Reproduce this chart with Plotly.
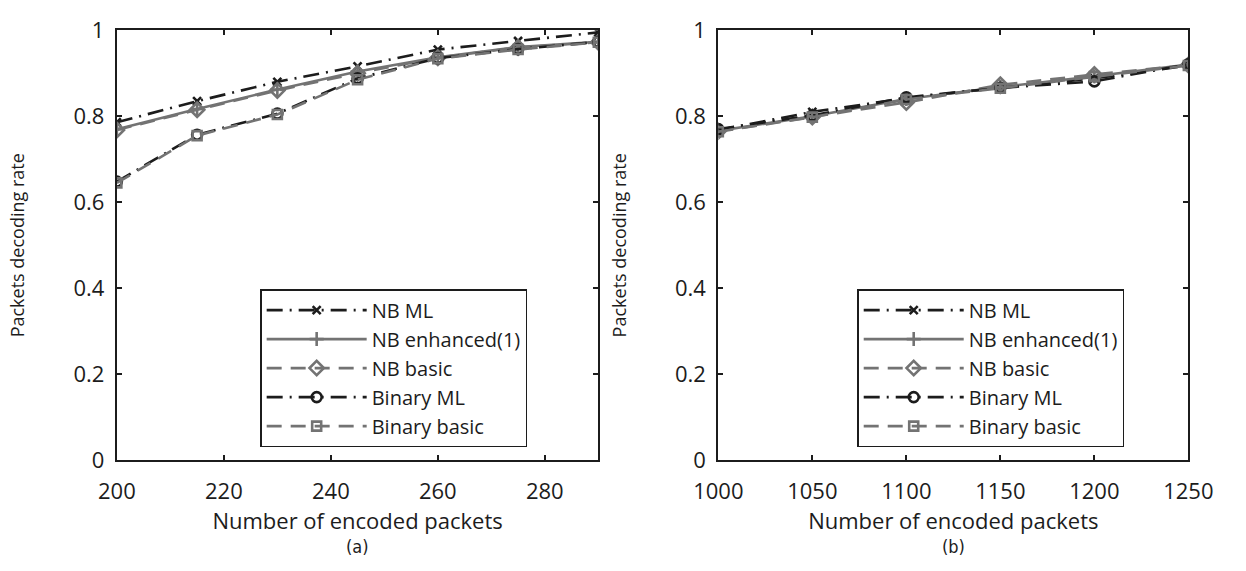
import plotly.graph_objects as go

# ---------------- data ----------------
x_a = [200, 215, 230, 245, 260, 275, 290]
nb_ml_a = [0.786, 0.835, 0.880, 0.916, 0.955, 0.975, 0.995]
nb_enh_a = [0.770, 0.817, 0.862, 0.904, 0.937, 0.961, 0.973]
nb_basic_a = [0.768, 0.815, 0.860, 0.900, 0.936, 0.960, 0.972]
bin_ml_a = [0.648, 0.757, 0.806, 0.888, 0.935, 0.956, 0.973]
bin_basic_a = [0.645, 0.755, 0.804, 0.885, 0.934, 0.955, 0.972]

x_b = [1000, 1050, 1100, 1150, 1200, 1250]
nb_ml_b = [0.768, 0.810, 0.842, 0.866, 0.888, 0.918]
nb_enh_b = [0.766, 0.800, 0.840, 0.868, 0.893, 0.920]
nb_basic_b = [0.765, 0.798, 0.832, 0.873, 0.897, 0.919]
bin_ml_b = [0.770, 0.802, 0.844, 0.866, 0.881, 0.921]
bin_basic_b = [0.764, 0.798, 0.839, 0.865, 0.892, 0.918]

names = ["NB ML", "NB enhanced(1)", "NB basic", "Binary ML", "Binary basic"]
y_ticks = [0, 0.2, 0.4, 0.6, 0.8, 1]
y_ticklabels = ["0", "0.2", "0.4", "0.6", "0.8", "1"]
xa_ticks = [200, 220, 240, 260, 280]
xb_ticks = [1000, 1050, 1100, 1150, 1200, 1250]

# ---------------- styles ----------------
BLACK = "#1c1c1c"
GRAY = "#737373"
styles = [
    dict(color=BLACK, dash="16px,7px,2px,7px", symbol="x-thin-open", msize=8),
    dict(color=GRAY, dash="solid", symbol="cross-thin-open", msize=10),
    dict(color=GRAY, dash="15px,9px", symbol="diamond-open", msize=11),
    dict(color=BLACK, dash="16px,7px,2px,7px", symbol="circle-open", msize=10),
    dict(color=GRAY, dash="15px,9px", symbol="square-open", msize=9),
]

FONT = "Open Sans"
fig = go.Figure()

series_a = [nb_ml_a, nb_enh_a, nb_basic_a, bin_ml_a, bin_basic_a]
series_b = [nb_ml_b, nb_enh_b, nb_basic_b, bin_ml_b, bin_basic_b]

for name, ys, st in zip(names, series_a, styles):
    fig.add_trace(go.Scatter(
        x=x_a, y=ys, name=name, mode="lines+markers",
        line=dict(color=st["color"], width=2.6, dash=st["dash"]),
        marker=dict(symbol=st["symbol"], size=st["msize"], color=st["color"],
                    line=dict(color=st["color"], width=2.6)),
        xaxis="x", yaxis="y", legend="legend",
    ))
for name, ys, st in zip(names, series_b, styles):
    fig.add_trace(go.Scatter(
        x=x_b, y=ys, name=name, mode="lines+markers",
        line=dict(color=st["color"], width=2.6, dash=st["dash"]),
        marker=dict(symbol=st["symbol"], size=st["msize"], color=st["color"],
                    line=dict(color=st["color"], width=2.6)),
        xaxis="x2", yaxis="y2", legend="legend2",
    ))

W, H = 1246, 571
axis_common = dict(
    showline=True, linecolor=BLACK, linewidth=2, mirror="ticks",
    ticks="inside", ticklen=5, tickwidth=1.5, tickcolor=BLACK,
    showgrid=False, zeroline=False, ticklabeloverflow="allow",
    tickfont=dict(family=FONT, size=22, color=BLACK),
)
xa_dom = [95.7 / W, 597.3 / W]
xb_dom = [722.3 / W, 1212 / W]
y_dom = [1 - 469 / H, 1 - 15 / H]

xtitle_font = dict(family=FONT, size=22, color=BLACK)
ytitle_font = dict(family=FONT, size=18, color=BLACK)

fig.update_layout(
    width=W, height=H,
    margin=dict(l=0, r=0, t=0, b=0),
    paper_bgcolor="white", plot_bgcolor="white",
    xaxis=dict(domain=xa_dom, range=[200, 290], tickvals=xa_ticks, anchor="y",
               ticklabelstandoff=10,
               title=dict(text="Number of encoded packets", font=xtitle_font, standoff=5),
               **axis_common),
    yaxis=dict(domain=y_dom, range=[0, 1], tickvals=y_ticks, ticktext=y_ticklabels, anchor="x",
               ticklabelstandoff=6,
               title=dict(text="Packets decoding rate", font=ytitle_font, standoff=44),
               **axis_common),
    xaxis2=dict(domain=xb_dom, range=[1000, 1250], tickvals=xb_ticks, anchor="y2",
                ticklabelstandoff=10,
                title=dict(text="Number of encoded packets", font=xtitle_font, standoff=5),
                **axis_common),
    yaxis2=dict(domain=y_dom, range=[0, 1], tickvals=y_ticks, ticktext=y_ticklabels, anchor="x2",
                ticklabelstandoff=6,
                title=dict(text="Packets decoding rate", font=ytitle_font, standoff=44),
                **axis_common),
    legend=dict(x=245 / W, y=1 - 455 / H, xanchor="left", yanchor="bottom",
                bgcolor="white", bordercolor=BLACK, borderwidth=1.5,
                font=dict(family=FONT, size=20, color=BLACK), itemwidth=100,
                tracegroupgap=0),
    legend2=dict(x=867 / W, y=1 - 455 / H, xanchor="left", yanchor="bottom",
                 bgcolor="white", bordercolor=BLACK, borderwidth=1.5,
                 font=dict(family=FONT, size=20, color=BLACK), itemwidth=100,
                 tracegroupgap=0),
    annotations=[
        dict(text="(a)", x=sum(xa_dom) / 2, y=1 - 560 / H, xref="paper", yref="paper",
             xanchor="center", yanchor="middle", showarrow=False,
             font=dict(family="DejaVu Sans Condensed, DejaVu Sans", size=18, color=BLACK)),
        dict(text="(b)", x=sum(xb_dom) / 2, y=1 - 560 / H, xref="paper", yref="paper",
             xanchor="center", yanchor="middle", showarrow=False,
             font=dict(family="DejaVu Sans Condensed, DejaVu Sans", size=18, color=BLACK)),
    ],
)

fig.write_html("out.html")
